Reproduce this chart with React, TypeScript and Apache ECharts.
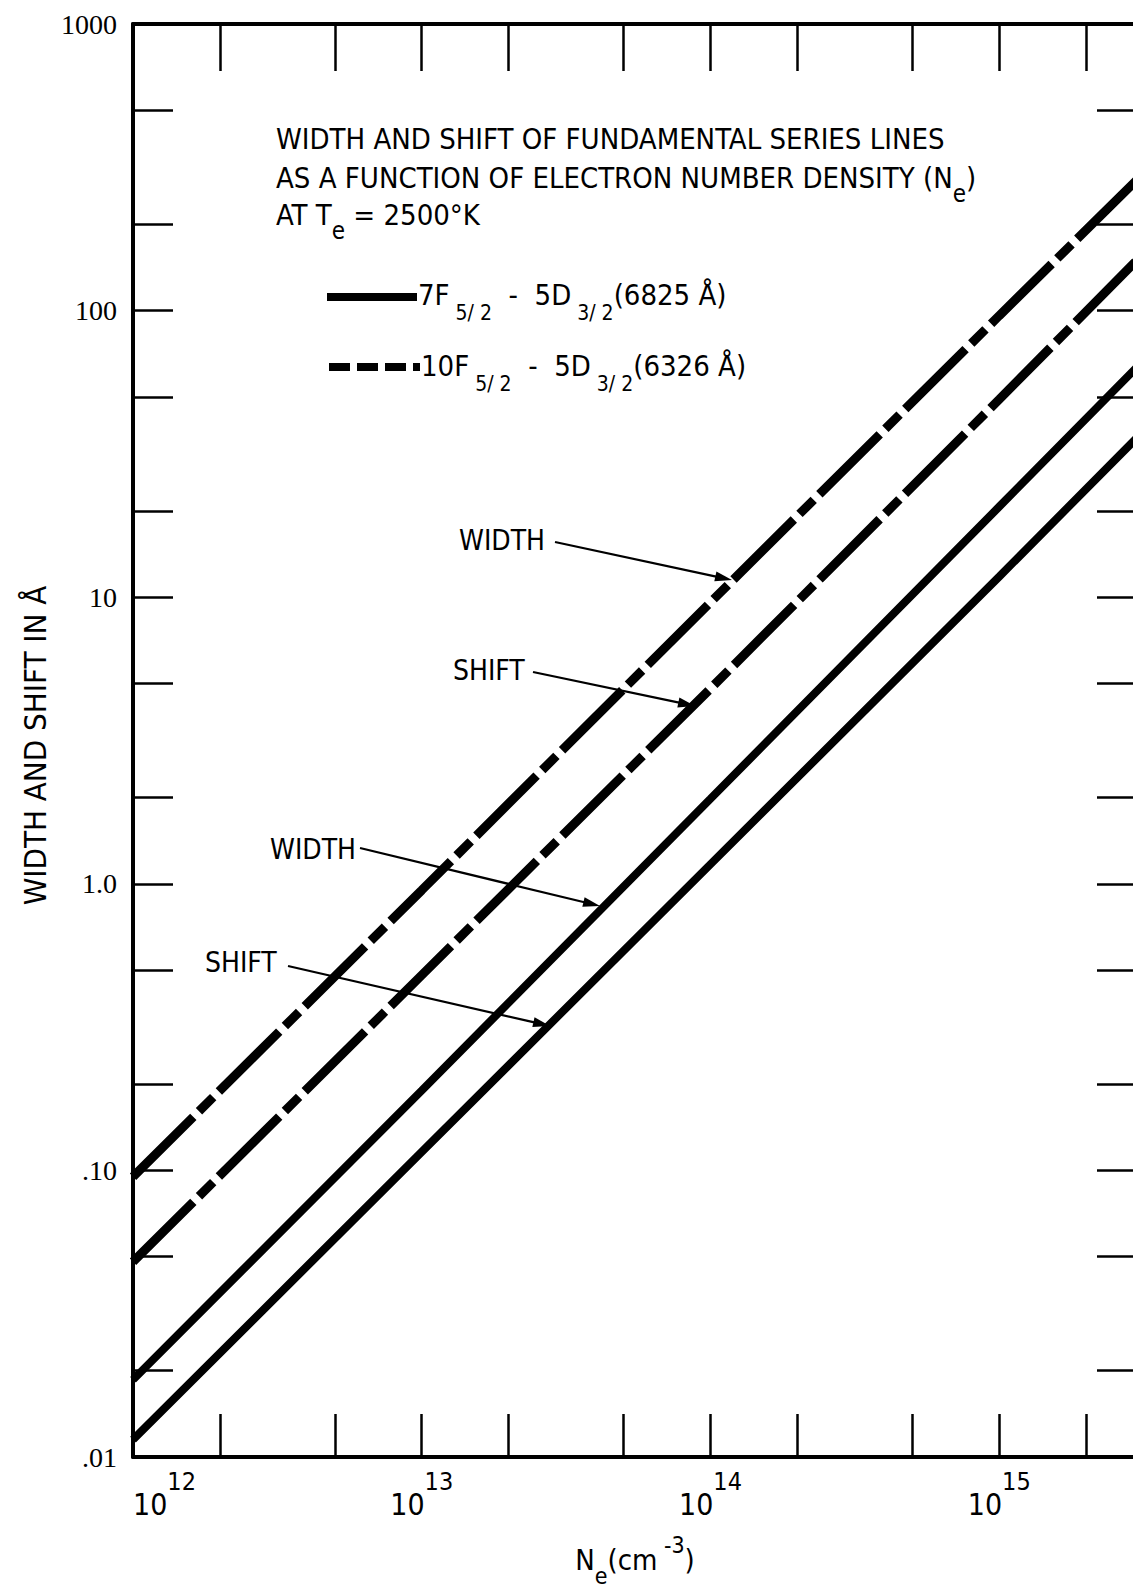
import React, { useEffect, useRef } from "react";
import * as echarts from "echarts";

// ---- data ----
const densities = [1e12, 1e13, 1e14, 1e15, 3e15]; // Ne (cm^-3)
const width6326 = [0.095, 0.95, 9.6, 96, 286]; // dashed, WIDTH
const shift6326 = [0.048, 0.48, 4.8, 49, 150]; // dashed, SHIFT
const width6825 = [0.0186, 0.19, 1.98, 20.7, 63.5]; // solid, WIDTH
const shift6825 = [0.0115, 0.116, 1.17, 11.8, 36]; // solid, SHIFT

const xTickValues = [2e12, 5e12, 1e13, 2e13, 5e13, 1e14, 2e14, 5e14, 1e15, 2e15];
const xLabelValues = [1e12, 1e13, 1e14, 1e15];
const yTickValues = [0.02, 0.05, 0.1, 0.2, 0.5, 1, 2, 5, 10, 20, 50, 100, 200, 500];
const yLabelValues = [0.01, 0.1, 1, 10, 100, 1000];
const yLabelTexts = [".01", ".10", "1.0", "10", "100", "1000"];

const X_MIN = 1e12;
const X_MAX = 3e15;
const Y_MIN = 0.01;
const Y_MAX = 1000;

const SANS = "'DejaVu Sans Condensed', 'DejaVu Sans', sans-serif";
const SERIF = "'Liberation Serif', serif";
const BLACK = "#000";

const txtRich = (size: number, lh: number, subSize: number) => ({
  t: { fontFamily: SANS, fontSize: size, lineHeight: lh, color: BLACK, verticalAlign: "middle" },
  sub: { fontFamily: SANS, fontSize: subSize, color: BLACK, verticalAlign: "bottom" },
  sup: { fontFamily: SANS, fontSize: subSize, color: BLACK, verticalAlign: "top" },
});

function richText(x: number, y: number, text: string, size: number, subSize: number, lh = 56) {
  return {
    type: "text",
    x,
    y,
    silent: true,
    style: {
      text,
      rich: txtRich(size, lh, subSize),
      align: "left",
      verticalAlign: "middle",
      fill: BLACK,
    },
  };
}

function plainText(x: number, y: number, text: string, size: number) {
  return {
    type: "text",
    x,
    y,
    silent: true,
    style: {
      text,
      fontFamily: SANS,
      fontSize: size,
      fill: BLACK,
      align: "left",
      verticalAlign: "middle",
    },
  };
}

function arrow(x1: number, y1: number, x2: number, y2: number) {
  const dx = x2 - x1;
  const dy = y2 - y1;
  const len = Math.hypot(dx, dy);
  const ux = dx / len;
  const uy = dy / len;
  const hl = 17;
  const hw = 5;
  const bx = x2 - ux * hl;
  const by = y2 - uy * hl;
  return [
    {
      type: "line",
      silent: true,
      shape: { x1, y1, x2: bx + ux * 2, y2: by + uy * 2 },
      style: { stroke: BLACK, lineWidth: 2.2 },
    },
    {
      type: "polygon",
      silent: true,
      shape: {
        points: [
          [x2, y2],
          [bx - uy * hw, by + ux * hw],
          [bx + uy * hw, by - ux * hw],
        ],
      },
      style: { fill: BLACK },
    },
  ];
}

const pairs = (ys: number[]) => densities.map((d, i) => [d, ys[i]]);

const DASH = [85, 8, 20, 8];

function buildOption() {
  const xLabelRich = {
    b: { fontFamily: SANS, fontSize: 30, lineHeight: 50, color: BLACK, verticalAlign: "bottom" },
    s: { fontFamily: SANS, fontSize: 25, color: BLACK, verticalAlign: "top" },
  };
  const nameRich = {
    n: { fontFamily: SANS, fontSize: 29, lineHeight: 54, color: BLACK, verticalAlign: "middle" },
    sub: { fontFamily: SANS, fontSize: 23, color: BLACK, verticalAlign: "bottom" },
    sup: { fontFamily: SANS, fontSize: 23, color: BLACK, verticalAlign: "top" },
  };

  const lineSeries = (name: string, ys: number[], dashed: boolean) => ({
    type: "line",
    name,
    data: pairs(ys),
    symbol: "none",
    showSymbol: false,
    clip: true,
    lineStyle: { color: BLACK, width: dashed ? 9 : 8, type: dashed ? DASH : "solid", cap: "butt" },
    z: 1,
  });

  return {
    animation: false,
    backgroundColor: "#fff",
    grid: {
      left: 133,
      top: 24,
      width: 1004,
      height: 1433,
      containLabel: false,
      outerBoundsMode: "none",
    },
    xAxis: [
      {
        type: "log",
        logBase: 10,
        min: X_MIN,
        max: X_MAX,
        position: "bottom",
        axisLine: { show: true, onZero: false, lineStyle: { color: BLACK, width: 4 } },
        axisTick: {
          show: true,
          inside: true,
          length: 43,
          customValues: xTickValues,
          lineStyle: { color: BLACK, width: 2.5 },
        },
        minorTick: { show: false },
        splitLine: { show: false },
        axisLabel: {
          show: true,
          customValues: xLabelValues,
          margin: 12,
          alignMinLabel: "left",
          formatter: (v: number) => `{b|10}{s|${Math.round(Math.log10(v))}}`,
          rich: xLabelRich,
        },
        name: "{n|N}{sub|e}{n|(cm}{sup| -3}{n|)}",
        nameLocation: "middle",
        nameGap: 76,
        nameTextStyle: { rich: nameRich },
      },
      {
        type: "log",
        logBase: 10,
        min: X_MIN,
        max: X_MAX,
        position: "top",
        axisLine: { show: true, onZero: false, lineStyle: { color: BLACK, width: 4 } },
        axisTick: {
          show: true,
          inside: true,
          length: 47,
          customValues: xTickValues,
          lineStyle: { color: BLACK, width: 2.5 },
        },
        minorTick: { show: false },
        splitLine: { show: false },
        axisLabel: { show: false },
      },
    ],
    yAxis: [
      {
        type: "log",
        logBase: 10,
        min: Y_MIN,
        max: Y_MAX,
        position: "left",
        axisLine: { show: true, onZero: false, lineStyle: { color: BLACK, width: 4 } },
        axisTick: {
          show: true,
          inside: true,
          length: 40,
          customValues: yTickValues,
          lineStyle: { color: BLACK, width: 2.5 },
        },
        minorTick: { show: false },
        splitLine: { show: false },
        axisLabel: {
          show: true,
          customValues: yLabelValues,
          margin: 16,
          fontFamily: SERIF,
          fontSize: 28,
          color: BLACK,
          formatter: (v: number) => {
            const i = yLabelValues.findIndex((t) => Math.abs(Math.log10(t) - Math.log10(v)) < 0.01);
            return i >= 0 ? yLabelTexts[i] : "";
          },
        },
        name: "WIDTH AND SHIFT IN Å",
        nameLocation: "middle",
        nameGap: 72,
        nameRotate: 90,
        nameTextStyle: { fontFamily: SANS, fontSize: 31, color: BLACK, padding: [0, 10, 0, 0] },
      },
      {
        type: "log",
        logBase: 10,
        min: Y_MIN,
        max: Y_MAX,
        position: "right",
        axisLine: { show: true, onZero: false, lineStyle: { color: BLACK, width: 4 } },
        axisTick: {
          show: true,
          inside: true,
          length: 40,
          customValues: yTickValues,
          lineStyle: { color: BLACK, width: 2.5 },
        },
        minorTick: { show: false },
        splitLine: { show: false },
        axisLabel: { show: false },
      },
    ],
    series: [
      lineSeries("WIDTH 10F-5D (6326 Å)", width6326, true),
      lineSeries("SHIFT 10F-5D (6326 Å)", shift6326, true),
      lineSeries("WIDTH 7F-5D (6825 Å)", width6825, false),
      lineSeries("SHIFT 7F-5D (6825 Å)", shift6825, false),
    ],
    graphic: [
      // title block
      richText(276, 139, "{t|WIDTH AND SHIFT OF FUNDAMENTAL SERIES LINES}", 29, 24),
      richText(276, 178, "{t|AS A FUNCTION OF ELECTRON NUMBER DENSITY (N}{sub|e}{t|)}", 29, 24),
      richText(276, 215, "{t|AT T}{sub|e}{t| = 2500°K}", 29, 24),
      // legend
      {
        type: "line",
        silent: true,
        shape: { x1: 327, y1: 297, x2: 417, y2: 297 },
        style: { stroke: BLACK, lineWidth: 8 },
      },
      {
        type: "line",
        silent: true,
        shape: { x1: 329, y1: 367, x2: 420, y2: 367 },
        style: { stroke: BLACK, lineWidth: 8, lineDash: [21, 7] },
      },
      richText(418, 295, "{t|7F}{sub| 5/ 2}{t|  -  5D}{sub| 3/ 2}{t|(6825 Å)}", 29, 21),
      richText(421, 366, "{t|10F}{sub| 5/ 2}{t|  -  5D}{sub| 3/ 2}{t|(6326 Å)}", 29, 21),
      // annotations
      plainText(459, 540, "WIDTH", 28),
      ...arrow(555, 542, 732, 580),
      plainText(453, 670, "SHIFT", 28),
      ...arrow(533, 672, 695, 706),
      plainText(270, 849, "WIDTH", 28),
      ...arrow(360, 848, 600, 906),
      plainText(205, 962, "SHIFT", 28),
      ...arrow(288, 966, 550, 1026),
    ],
  };
}

export default function App() {
  const ref = useRef<HTMLDivElement>(null);
  useEffect(() => {
    if (!ref.current) return;
    const chart = echarts.init(ref.current, undefined, { renderer: "svg" });
    chart.setOption(buildOption() as any);
    return () => chart.dispose();
  }, []);
  return (
    <div
      style={{
        position: "fixed",
        left: 0,
        top: 0,
        width: 1133,
        height: 1592,
        overflow: "hidden",
        background: "#fff",
      }}
    >
      <div ref={ref} style={{ width: 1200, height: 1592 }} />
    </div>
  );
}
